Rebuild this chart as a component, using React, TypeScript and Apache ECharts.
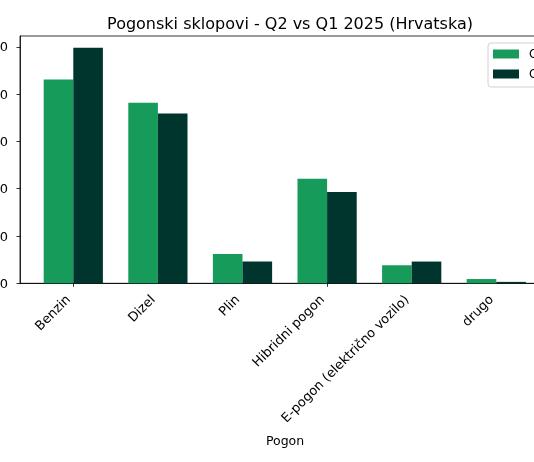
import React, { useEffect, useRef } from "react";
import * as echarts from "echarts";

const categories = ["Benzin", "Dizel", "Plin", "Hibridni pogon", "E-pogon (električno vozilo)", "drugo"];
const seriesNames = ["Q2 2025", "Q1 2025"];
const q2Values = [431, 382, 62, 221, 38, 9];
const q1Values = [498, 359, 46, 193, 46, 3];
const yTicks = [0, 100, 200, 300, 400, 500];
const yMax = 523;

const FONT = "DejaVu Sans";
const GREEN = "#179b5b";
const DARK = "#00352e";

export default function App() {
  const ref = useRef<HTMLDivElement>(null);
  useEffect(() => {
    if (!ref.current) return;
    const chart = echarts.init(ref.current, undefined, { renderer: "svg" });
    const frameLeft = 20;
    const frameTop = 36;
    const frameHeight = 247.3;
    const band = 84.6;
    const firstCenter = 73.3;
    const frameRight = firstCenter + 5.635 * band;
    const innerLeft = firstCenter - band / 2;
    const gridCommon = { containLabel: false, outerBoundsMode: "none" };
    chart.setOption({
      animation: false,
      textStyle: { fontFamily: FONT },
      title: {
        text: "Pogonski sklopovi - Q2 vs Q1 2025 (Hrvatska)",
        left: (frameLeft + frameRight) / 2,
        textAlign: "center",
        top: 10,
        textStyle: { fontFamily: FONT, fontSize: 16, fontWeight: "normal", color: "#000" },
      },
      legend: {
        data: seriesNames,
        orient: "vertical",
        left: 488,
        top: 43,
        padding: [5, 5, 7, 5],
        itemWidth: 26,
        itemHeight: 9,
        itemGap: 8,
        icon: "rect",
        borderColor: "#d0d0d0",
        borderWidth: 1,
        borderRadius: 3,
        backgroundColor: "rgba(255,255,255,0.8)",
        textStyle: { fontFamily: FONT, fontSize: 12, color: "#000", padding: [0, 0, 0, 5] },
      },
      grid: [
        {
          ...gridCommon,
          left: frameLeft,
          top: frameTop,
          width: frameRight - frameLeft,
          height: frameHeight,
          show: true,
          borderColor: "#000",
          borderWidth: 0.8,
          backgroundColor: "transparent",
        },
        {
          ...gridCommon,
          left: innerLeft,
          top: frameTop,
          width: band * categories.length,
          height: frameHeight,
        },
        {
          ...gridCommon,
          left: innerLeft - 5.3,
          top: frameTop,
          width: band * categories.length,
          height: frameHeight,
        },
      ],
      xAxis: [
        {
          type: "value",
          gridIndex: 0,
          min: 0,
          max: 1,
          axisLine: { show: true, lineStyle: { color: "#000", width: 0.8 } },
          axisTick: { show: false },
          axisLabel: { show: false },
          splitLine: { show: false },
          name: "Pogon",
          nameLocation: "middle",
          nameGap: 151,
          nameTextStyle: { fontFamily: FONT, fontSize: 12.5, color: "#000" },
        },
        {
          type: "category",
          gridIndex: 1,
          data: categories,
          axisLine: { show: false },
          axisTick: { show: true, alignWithLabel: true, length: 3.5, lineStyle: { color: "#000", width: 0.8 } },
          axisLabel: { show: false },
        },
        {
          type: "category",
          gridIndex: 2,
          data: categories,
          axisLine: { show: false },
          axisTick: { show: false },
          axisLabel: { rotate: 45, fontSize: 13, color: "#000", fontFamily: FONT, margin: 13.7, interval: 0 },
        },
      ],
      yAxis: [
        {
          type: "value",
          gridIndex: 0,
          min: 0,
          max: yMax,
          axisLine: { show: true, lineStyle: { color: "#000", width: 0.8 } },
          axisTick: { show: true, length: 3.5, customValues: yTicks, lineStyle: { color: "#000", width: 0.8 } },
          axisLabel: { customValues: yTicks, fontSize: 13, color: "#000", fontFamily: FONT, margin: 12 },
          splitLine: { show: false },
        },
        {
          type: "value",
          gridIndex: 1,
          min: 0,
          max: yMax,
          show: false,
          splitLine: { show: false },
        },
        {
          type: "value",
          gridIndex: 2,
          min: 0,
          max: yMax,
          show: false,
          splitLine: { show: false },
        },
      ],
      series: [
        {
          name: seriesNames[0],
          type: "bar",
          xAxisIndex: 1,
          yAxisIndex: 1,
          data: q2Values,
          barWidth: band * 0.35,
          barGap: "0%",
          itemStyle: { color: GREEN },
        },
        {
          name: seriesNames[1],
          type: "bar",
          xAxisIndex: 1,
          yAxisIndex: 1,
          data: q1Values,
          barWidth: band * 0.35,
          barGap: "0%",
          itemStyle: { color: DARK },
        },
      ],
    });
    return () => chart.dispose();
  }, []);
  return <div ref={ref} style={{ position: "fixed", left: 0, top: 0, width: 534, height: 462 }} />;
}
